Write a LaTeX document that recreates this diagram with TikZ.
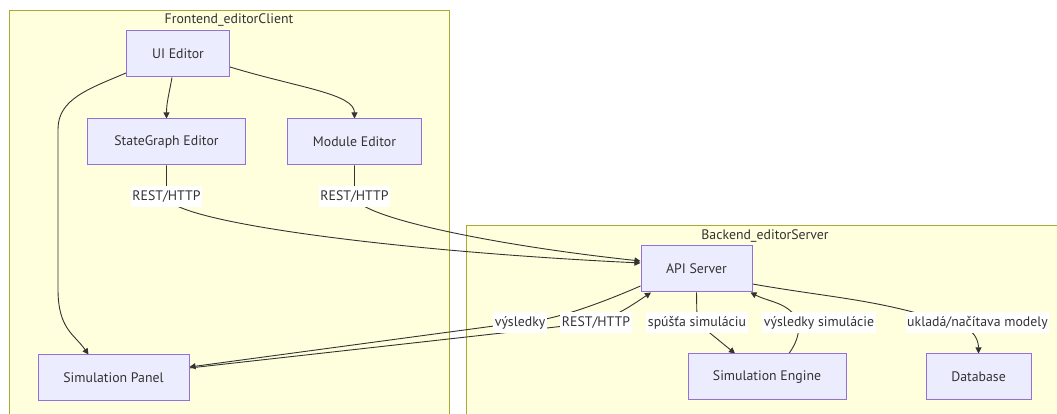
\documentclass[tikz,border=0pt]{standalone}
\usepackage{fontspec}
\setmainfont{PT Sans}
\usepackage{xcolor}
\usepackage{tikz}
\usetikzlibrary{
  arrows.meta,
  positioning,
  calc
}
\pgfdeclarelayer{background}
\pgfdeclarelayer{edges}
\pgfsetlayers{background,edges,main}
\definecolor{compfill}{HTML}{ECECFF}
\definecolor{compline}{HTML}{9370DB}
\definecolor{grpfill}{HTML}{FFFFDE}
\definecolor{grpline}{HTML}{AAAA33}
\definecolor{inkgray}{HTML}{333333}
\tikzset{
  comp/.style = {
    rectangle, draw=compline, line width=1pt,
    fill=compfill, minimum width=#1, minimum height=46pt,
    text=inkgray, font=\fontsize{13.8}{16}\selectfont
  },
  comp/.default = 110pt,
  grp/.style = {draw=grpline, line width=1pt, fill=grpfill},
  grptitle/.style = {text=inkgray, font=\fontsize{13.8}{16}\selectfont},
  flow/.style = {-{Triangle[length=6pt,width=6pt]}, draw=inkgray, line width=0.9pt},
  lbl/.style = {
    fill=white, text=inkgray, inner xsep=1.5pt, inner ysep=0pt,
    minimum height=21pt, font=\fontsize{13.8}{16}\selectfont
  },
}

\begin{document}
\begin{tikzpicture}[x=1pt, y=1pt]
  \useasboundingbox (0,0) rectangle (1057,414);

  % frontend
  \node[comp=103pt] (ui) at (178,360) {UI Editor};
  \node[comp=158pt, below=41pt of ui, xshift=-11.5pt] (sg) {StateGraph Editor};
  \node[comp=134pt, right=41pt of sg] (mod) {Module Editor};
  \node[comp=151pt, below=189pt of sg, xshift=-53pt] (panel) {Simulation Panel};

  % backend
  \node[comp=111pt] (api) at (696.5,145) {API Server};
  \node[comp=158pt, below=61pt of api, xshift=70.5pt] (eng) {Simulation Engine};
  \node[comp=105pt, right=79pt of eng] (db) {Database};

  % edge labels
  \node[lbl, below=20pt of sg]  (lsg)  {REST/HTTP};
  \node[lbl, below=20pt of mod] (lmod) {REST/HTTP};
  \node[lbl] (lback)  at (520,91.5)   {výsledky};
  \node[lbl] (lcall)  at (596,91.5)   {REST/HTTP};
  \node[lbl] (lrun)   at (697,91.5)   {spúšťa simuláciu};
  \node[lbl] (lres)   at (819,91.5)   {výsledky simulácie};
  \node[lbl] (lstore) at (977.5,91.5) {ukladá/načítava modely};

  % subgraph boxes
  \begin{pgfonlayer}{background}
    \draw[grp] (9,-2) rectangle (449.5,403.5);
    \draw[grp] (466.5,-2) rectangle (1064,188.5);
  \end{pgfonlayer}
  \node[grptitle] (ftitle) at (229,393.5) {Frontend\_editorClient};
  \node[grptitle] (btitle) at (765,178) {Backend\_editorServer};

  \begin{pgfonlayer}{edges}
    \draw[flow] ([xshift=-6pt]ui.south) to[out=-100,in=90] (sg.north);
    \draw[flow] ([yshift=-13pt]ui.east) .. controls +(-17:70pt) and +(0,25pt) .. (mod.north);
    \draw[flow] ([yshift=-19pt]ui.west) .. controls +(-157:40pt) and +(0,30pt) .. (58,285)
      -- (58,125) .. controls +(0,-40pt) and +(125:25pt) .. ([xshift=-25pt]panel.north);

    \draw[flow] (sg.south) -- (lsg.center)
      .. controls +(0,-25pt) and +(-250pt,12pt) .. ([yshift=6pt]api.west);
    \draw[flow] (mod.south) -- (lmod.center)
      .. controls +(0,-20pt) and +(-150pt,16pt) .. ([yshift=8pt]api.west);

    \draw[flow] ([yshift=10pt]panel.east) -- (lcall.center)
      .. controls +(20pt,6pt) and +(-15pt,-10pt) .. ([xshift=-45.5pt]api.south);
    \draw[flow] ([yshift=-17pt]api.west) .. controls +(-30pt,-13pt) and +(35pt,1pt) .. (lback.center)
      -- ([yshift=11pt]panel.east);

    \draw[flow] (api.south) -- (lrun.center) -- ([xshift=-32pt]eng.north);
    \draw[flow] ([xshift=22pt]eng.north) to[out=55,in=-90] ([xshift=-20pt]lres.center)
      to[out=115,in=-27] ([xshift=54pt]api.south);
    \draw[flow] ([yshift=-15pt]api.east) to[out=-10,in=160] ([xshift=-12pt,yshift=-6pt]lstore.center)
      to[out=-20,in=90] (db.north);
  \end{pgfonlayer}
\end{tikzpicture}
\end{document}
